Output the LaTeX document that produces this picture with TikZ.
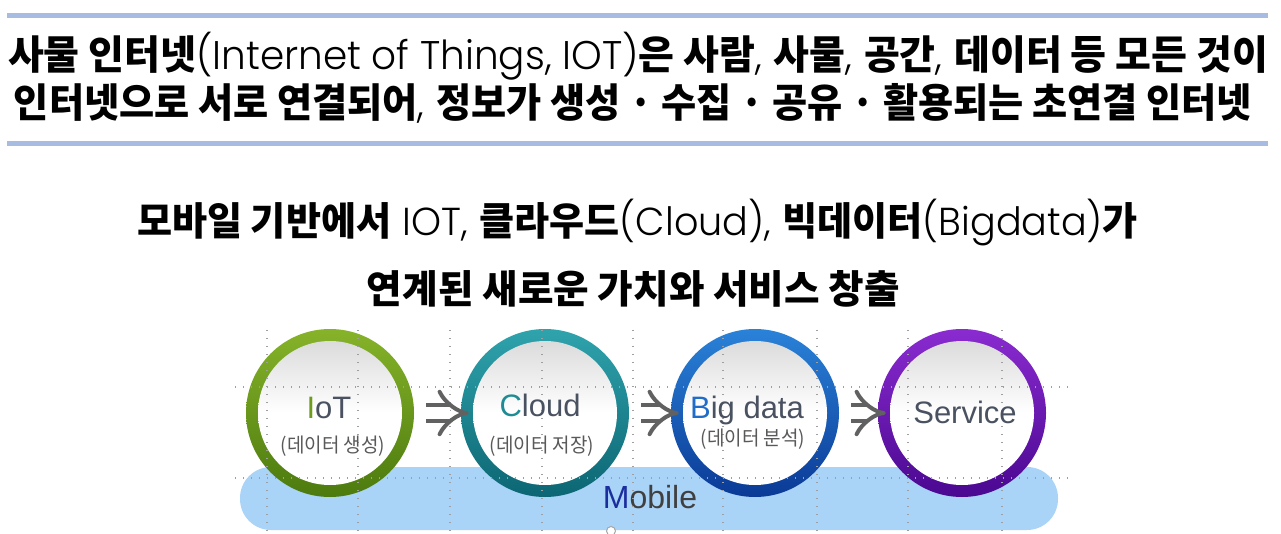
\documentclass[tikz,border=0pt]{standalone}
\usepackage{fontspec}
\usetikzlibrary{arrows.meta}
\newfontfamily\kr{Noto Sans CJK KR}
\IfFontExistsTF{Poppins Light}{\newfontfamily\lt{Poppins Light}}{\newfontfamily\lt{Lato Light}}
\newfontfamily\ar{Liberation Sans}
\definecolor{rulebl}{HTML}{A8BCE1}
\definecolor{mobilebl}{HTML}{A9D3F7}
\definecolor{txtgray}{HTML}{4A5261}
\definecolor{subgray}{HTML}{595959}
\definecolor{iotA}{HTML}{86B329}\definecolor{iotB}{HTML}{4C7A0E}
\definecolor{clA}{HTML}{2FA3AC}\definecolor{clB}{HTML}{0C6673}
\definecolor{bdA}{HTML}{2A82D8}\definecolor{bdB}{HTML}{0A3A96}
\definecolor{svA}{HTML}{8A2BD0}\definecolor{svB}{HTML}{4A0890}
\definecolor{iotL}{HTML}{6C9B1E}\definecolor{clL}{HTML}{1F8C95}
\definecolor{bdL}{HTML}{1F6CC9}\definecolor{mbL}{HTML}{1B2E9E}
% bold Korean run and light Latin run
\newcommand{\kb}[1]{{\kr\bfseries #1}}
\newcommand{\la}[1]{{\lt #1}}
\begin{document}
\begin{tikzpicture}[x=1pt,y=-1pt,
  title/.style={anchor=base,inner sep=0pt,font=\fontsize{40}{46}\selectfont},
  midtitle/.style={anchor=base,inner sep=0pt,font=\fontsize{39}{45}\selectfont},
  ring/.style 2 args={circle,inner sep=0pt,minimum size=168pt,top color=#1,bottom color=#2},
  disk/.style={circle,inner sep=0pt,minimum size=144pt,top color=black!14,bottom color=white,middle color=white},
  head/.style={anchor=base,inner sep=0pt,font=\ar\fontsize{31}{35}\selectfont,text=txtgray},
  sub/.style={anchor=base,inner sep=0pt,font=\kr\fontsize{20}{24}\selectfont,text=subgray},
  guide/.style={gray!75,line width=1.3pt,dash pattern=on 1.3pt off 6.7pt},
  flow/.style={double=white,double distance=12pt,line width=4pt,draw=black!62,-{Implies},shorten <=12pt,shorten >=-8pt}
]
\useasboundingbox (0,0) rectangle (1281,534);

% horizontal rules framing the definition
\fill[rulebl] (7,13.5) rectangle (1268,18.5);
\fill[rulebl] (7,141) rectangle (1268,146);

% definition text
\node[title] (t1) at (638,70) {\resizebox{1260pt}{\height}{\kb{사물 인터넷}\la{(Internet of Things, IOT)}\kb{은 사람}\la{,} \kb{사물}\la{,} \kb{공간}\la{,} \kb{데이터 등 모든 것이}}};
\node[title] (t2) at (633,118) {\resizebox{1238pt}{\height}{\kb{인터넷으로 서로 연결되어}\la{,} \kb{정보가 생성 · 수집 · 공유 · 활용되는 초연결 인터넷}}};

% headline
\node[midtitle] (m1) at (637.5,236) {\resizebox{1001pt}{\height}{\kb{모바일 기반에서} \la{IOT,} \kb{클라우드}\la{(Cloud),} \kb{빅데이터}\la{(Bigdata)}\kb{가}}};
\node[midtitle] (m2) at (633.5,303) {\resizebox{533pt}{\height}{\kb{연계된 새로운 가치와 서비스 창출}}};

% mobile base bar
\fill[mobilebl,rounded corners=31pt] (240,467) rectangle (1058,530);
\node[anchor=base,inner sep=0pt,font=\ar\fontsize{32}{36}\selectfont] (mob) at (650,508) {\textcolor{mbL}{M}\textcolor{black!75}{obile}};
\node[circle,draw=gray!70,fill=white,line width=1pt,minimum size=9pt,inner sep=0pt] (knob) at (611,531) {};

% stage rings
\node[ring={iotA}{iotB}] (iot) at (330,413) {};
\node[ring={clA}{clB}] (cloud) at (545,413) {};
\node[ring={bdA}{bdB}] (bigdata) at (755,413) {};
\node[ring={svA}{svB}] (service) at (962,413) {};
\foreach \n in {iot,cloud,bigdata,service}
  \node[disk] at (\n) {};

% guide grid
\foreach \gx in {267,358,450,542,633,723,817,908,1002}
  \draw[guide] (\gx,330) -- (\gx,534);
\foreach \gy in {387,478}
  \draw[guide] (235,\gy) -- (1068,\gy);

% stage labels
\node[head] (iotT) at (329,418) {\textcolor{iotL}{I}oT};
\node[sub] (iotS) at (333,452) {\scalebox{0.95}[1]{(데이터 생성)}};
\node[head] (clT) at (540,416) {\textcolor{clL}{C}loud};
\node[sub] (clS) at (542,452) {\scalebox{0.95}[1]{(데이터 저장)}};
\node[head] (bdT) at (747,418) {\textcolor{bdL}{B}ig data};
\node[sub] (bdS) at (753,445) {\scalebox{0.95}[1]{(데이터 분석)}};
\node[head] (svT) at (965,423) {Service};

% flow arrows
\draw[flow] (iot) -- (cloud);
\draw[flow] (cloud) -- (bigdata);
\draw[flow] (bigdata) -- (service);
\end{tikzpicture}
\end{document}
